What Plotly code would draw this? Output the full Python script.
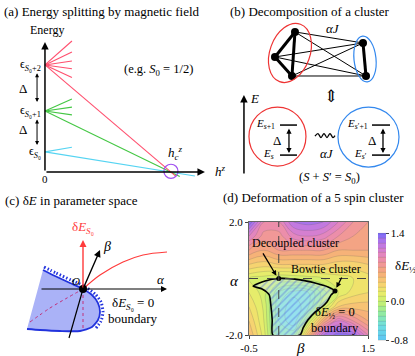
import math
import plotly.graph_objects as go

FONT = "Liberation Serif, DejaVu Serif, Times New Roman, serif"

# ---------- (a) energy splitting by magnetic field ----------
level_eps = [0.47, 1.42, 2.49]              # eps_S0, eps_S0+1, eps_S0+2
level_colors = ["#55d4f2", "#44c744", "#ff4f6e"]
level_names = ["ϵ<sub><i>S</i>₀</sub>", "ϵ<sub><i>S</i>₀+1</sub>", "ϵ<sub><i>S</i>₀+2</sub>"]
fan_slopes = [[0.5], [1.3, 0.42, -0.42], [2.6, 1.4, 0.42, -0.42, -1.36]]
fan_len = 0.214
long_end = [1.19, 1.07, 1.04]
h_c = 1.0

# ---------- (b) decomposition of a cluster ----------
node_x = [7.5, 5.5, 7.2, 14.3, 14.6]
node_y = [15.3, 12.8, 10.9, 14.2, 10.9]
intra_edges = [(0, 1), (1, 2), (0, 2), (3, 4)]
inter_edges = [(0, 3), (0, 4), (1, 3), (1, 4), (2, 3), (2, 4)]
# cluster ellipses: centre x, centre y, semi-major, semi-minor, tilt (deg, clockwise from vertical)
cluster_ell = [(7.0, 13.2, 3.05, 2.0, 20), (14.5, 12.6, 2.3, 1.1, -6)]
cluster_cols = ["#ee3333", "#3388ee"]
wave_x = [9.5, 9.8, 10.1, 10.4, 10.7, 11.0, 11.3, 11.5]
wave_y = [4.9, 5.15, 4.75, 5.15, 4.75, 5.15, 4.75, 4.95]

# ---------- (c) dE in parameter space ----------
red_curve_x = [0.0, 1.7, 4.0, 6.0, 8.4]
red_curve_y = [0.0, 1.4, 2.7, 3.4, 3.7]
region_x = [-4.0, -2.8, -1.3, 0.0, 0.9, 1.5, 1.7, 1.5, 0.9, -0.3, -2.3, -4.3, -5.6, -4.0]
region_y = [1.9, 1.3, 0.6, 0.0, -0.6, -1.4, -2.3, -3.1, -3.8, -4.2, -4.2, -4.1, -4.0, 1.9]
edge_x = [-4.0, -2.8, -1.3, 0.0, 0.9, 1.5, 1.7, 1.5, 0.9, -0.3, -2.3, -4.3, -5.6]
edge_y = [1.9, 1.3, 0.6, 0.0, -0.6, -1.4, -2.3, -3.1, -3.8, -4.2, -4.2, -4.1, -4.0]
comb_x = [-3.9, -2.7, -1.2, 0.1, 1.2, 1.8, 2.0, 1.8, 1.3]
comb_y = [2.2, 1.6, 0.9, 0.3, -0.5, -1.3, -2.3, -3.2, -3.9]
dot_curve_x = [-5.3, -3.3, -1.6, 0.0]
dot_curve_y = [-3.3, -1.9, -0.9, 0.0]

# ---------- (d) deformation of a 5 spin cluster ----------
beta_grid = [-0.5, -0.25, 0.0, 0.25, 0.5, 0.75, 1.0, 1.25, 1.5]
alpha_grid = [-2.0, -1.5, -1.0, -0.5, 0.0, 0.5, 1.0, 1.5, 2.0]
dE_grid = [
    [0.5, 0.15, -0.4, -0.3, 0.5, 1.2, 1.35, 1.3, 0.9],
    [0.4, 0.1, -0.4, -0.6, 0.0, 0.6, 1.0, 0.8, 0.6],
    [0.3, 0.08, -0.4, -0.6, -0.4, 0.03, 0.4, 0.45, 0.45],
    [0.2, 0.05, -0.3, -0.45, -0.4, -0.15, 0.1, 0.25, 0.3],
    [0.1, 0.05, 0.0, 0.02, 0.05, 0.1, 0.15, 0.2, 0.25],
    [0.4, 0.35, 0.4, 0.4, 0.4, 0.4, 0.35, 0.35, 0.4],
    [0.7, 0.6, 0.7, 0.7, 0.7, 0.7, 0.6, 0.6, 0.6],
    [1.0, 0.75, 0.75, 0.95, 1.0, 0.95, 0.8, 0.7, 0.65],
    [1.4, 0.9, 0.9, 1.2, 1.25, 1.2, 1.0, 0.8, 0.7],
]
boundary_beta = [-0.43, -0.23, 0.0, 0.36, 0.61, 0.83, 0.945, 0.88, 0.81, 0.73, 0.61, 0.49, 0.41, 0.36,
                 -0.10, -0.11, -0.13, -0.16, -0.28, -0.43]
boundary_alpha = [-0.27, -0.09, 0.0, -0.05, -0.16, -0.30, -0.44, -0.58, -0.83, -1.0, -1.19, -1.47, -1.75, -2.0,
                  -2.0, -1.47, -1.0, -0.58, -0.37, -0.27]
special_beta = [0.0, 0.945]     # decoupled, bowtie
special_alpha = [0.0, -0.44]

colorscale = [
    [0.0, "#5ec6f4"], [0.136, "#6fdfe0"], [0.27, "#97ec98"], [0.364, "#cdf06e"],
    [0.455, "#eeea6a"], [0.545, "#f8cb72"], [0.636, "#f5aa7a"], [0.727, "#f092a0"],
    [0.818, "#df82c8"], [0.909, "#b876e8"], [1.0, "#7d6cf5"],
]


def ellipse_path(cx, cy, a, b, tilt):
    # tilted ellipse as four cubic bezier arcs (svg path for a layout shape)
    th = math.radians(tilt)
    ux, uy = math.sin(th), math.cos(th)       # major axis direction
    vx, vy = uy, -ux                          # minor axis direction
    k = 0.5523

    def pt(t):
        return (cx + a * math.cos(t) * ux + b * math.sin(t) * vx,
                cy + a * math.cos(t) * uy + b * math.sin(t) * vy)

    def der(t):
        return (-a * math.sin(t) * ux + b * math.cos(t) * vx,
                -a * math.sin(t) * uy + b * math.cos(t) * vy)

    p0 = pt(0)
    path = "M %.3f,%.3f" % p0
    for q in range(4):
        t0, t1 = q * math.pi / 2, (q + 1) * math.pi / 2
        s, e = pt(t0), pt(t1)
        d0, d1 = der(t0), der(t1)
        c1 = (s[0] + k * d0[0] * (math.pi / 2) / (math.pi / 2), s[1] + k * d0[1])
        c2 = (e[0] - k * d1[0], e[1] - k * d1[1])
        path += " C %.3f,%.3f %.3f,%.3f %.3f,%.3f" % (c1[0], c1[1], c2[0], c2[1], e[0], e[1])
    return path + " Z"


fig = go.Figure()

# panel a traces
for k, eps in enumerate(level_eps):
    xs, ys = [], []
    for s in fan_slopes[k]:
        xs += [0, fan_len, None]
        ys += [eps, eps + s * fan_len, None]
    xs += [0, long_end[k]]
    ys += [eps, eps * (1 - long_end[k] / h_c)]
    fig.add_trace(go.Scatter(x=xs, y=ys, mode="lines", line=dict(color=level_colors[k], width=1.1),
                             xaxis="x", yaxis="y", hoverinfo="skip"))

# panel b traces
ex, ey = [], []
for i, j in inter_edges:
    ex += [node_x[i], node_x[j], None]
    ey += [node_y[i], node_y[j], None]
fig.add_trace(go.Scatter(x=ex, y=ey, mode="lines", line=dict(color="black", width=1),
                         xaxis="x2", yaxis="y2"))
ex, ey = [], []
for i, j in intra_edges:
    ex += [node_x[i], node_x[j], None]
    ey += [node_y[i], node_y[j], None]
fig.add_trace(go.Scatter(x=ex, y=ey, mode="lines", line=dict(color="black", width=3),
                         xaxis="x2", yaxis="y2"))
fig.add_trace(go.Scatter(x=node_x, y=node_y, mode="markers", marker=dict(color="black", size=8),
                         xaxis="x2", yaxis="y2"))
fig.add_trace(go.Scatter(x=wave_x, y=wave_y, mode="lines", line=dict(color="black", width=1.3, shape="spline"),
                         xaxis="x2", yaxis="y2"))
for lx in ([6.0, 7.7], [15.2, 17.0]):
    fig.add_trace(go.Scatter(x=lx + [None] + lx, y=[6.0, 6.0, None, 3.0, 3.0], mode="lines",
                             line=dict(color="black", width=1.5), xaxis="x2", yaxis="y2"))

# panel c traces
fig.add_trace(go.Scatter(x=region_x, y=region_y, mode="none", fill="toself",
                         fillcolor="rgba(100,115,240,0.55)", xaxis="x3", yaxis="y3"))
fig.add_trace(go.Scatter(x=comb_x, y=comb_y, mode="lines",
                         line=dict(color="#2233dd", width=3, dash="1.5px,2px", shape="spline", smoothing=0.6),
                         xaxis="x3", yaxis="y3"))
fig.add_trace(go.Scatter(x=edge_x, y=edge_y, mode="lines",
                         line=dict(color="#2233dd", width=1.8, shape="spline", smoothing=0.6),
                         xaxis="x3", yaxis="y3"))
fig.add_trace(go.Scatter(x=dot_curve_x + [None, 0, 0], y=dot_curve_y + [None, 0, -4.1], mode="lines",
                         line=dict(color="#c0307a", width=1, dash="dot", shape="spline"), xaxis="x3", yaxis="y3"))
fig.add_trace(go.Scatter(x=[0, -1.4], y=[0, -4.9], mode="lines", line=dict(color="black", width=1.2),
                         xaxis="x3", yaxis="y3"))
fig.add_trace(go.Scatter(x=red_curve_x, y=red_curve_y, mode="lines", line=dict(color="#ff3b3b", width=1.2, shape="spline"),
                         xaxis="x3", yaxis="y3"))
fig.add_trace(go.Scatter(x=[0], y=[0], mode="markers", marker=dict(color="black", size=8),
                         xaxis="x3", yaxis="y3"))

# panel d traces
fig.add_trace(go.Contour(
    x=beta_grid, y=alpha_grid, z=dE_grid, xaxis="x4", yaxis="y4",
    colorscale=colorscale, zmin=-0.8, zmax=1.4,
    contours=dict(start=-0.8, end=1.4, size=0.1, coloring="fill"),
    line=dict(color="rgba(90,90,90,0.35)", width=0.6, smoothing=1.2),
    colorbar=dict(x=378 / 415, xanchor="left", xpad=0, ypad=0, y=1 - 286.5 / 356, yanchor="middle",
                  len=107 / 356, lenmode="fraction", thickness=8, outlinewidth=0,
                  tickvals=[-0.8, 0.0, 1.4], ticktext=["-0.8", "0.0", "1.4"],
                  ticks="outside", ticklen=3, tickfont=dict(family=FONT, size=11, color="black")),
    hoverinfo="skip"))
fig.add_trace(go.Scatter(
    x=boundary_beta, y=boundary_alpha, mode="lines", fill="toself",
    line=dict(color="black", width=1.6, shape="spline", smoothing=0.6),
    fillcolor="rgba(150,190,255,0.25)",
    fillpattern=dict(shape="/", fgcolor="rgba(80,100,225,0.8)", bgcolor="rgba(225,238,255,0.35)",
                     size=5, solidity=0.3),
    xaxis="x4", yaxis="y4"))
fig.add_trace(go.Scatter(x=special_beta, y=special_alpha, mode="markers", marker=dict(color="black", size=5),
                         xaxis="x4", yaxis="y4"))


def arrow(x0, y0, x1, y1, ax_id, color="black", both=False, width=1.2, size=1.0):
    xr = "x" if ax_id == 1 else "x%d" % ax_id
    yr = "y" if ax_id == 1 else "y%d" % ax_id
    return dict(x=x1, y=y1, ax=x0, ay=y0, xref=xr, yref=yr, axref=xr, ayref=yr, text="",
                showarrow=True, arrowhead=2, arrowsize=size, arrowwidth=width, arrowcolor=color,
                arrowside="end+start" if both else "end", startarrowhead=2, startarrowsize=size)


def label(x, y, text, ax_id=None, size=12, color="black", xanchor="center", yanchor="middle"):
    if ax_id is None:
        xr, yr = "paper", "paper"
    else:
        xr = "x" if ax_id == 1 else "x%d" % ax_id
        yr = "y" if ax_id == 1 else "y%d" % ax_id
    return dict(x=x, y=y, xref=xr, yref=yr, text=text, showarrow=False, xanchor=xanchor, yanchor=yanchor,
                font=dict(family=FONT, size=size, color=color))


ann = [
    label(2 / 415, 1 - 11 / 356, "(a) Energy splitting by magnetic field", size=13, xanchor="left"),
    label(228 / 415, 1 - 11 / 356, "(b) Decomposition of a cluster", size=13, xanchor="left"),
    label(3 / 415, 1 - 200 / 356, "(c) δ<i>E</i> in parameter space", size=13, xanchor="left"),
    label(313 / 415, 1 - 197 / 356, "(d) Deformation of a 5 spin cluster", size=13),
    # a
    arrow(0, 0, 0, 3.02, 1, width=1.5),
    arrow(0, 0, 1.27, 0, 1, width=1.5),
    arrow(-0.063, 2.33, -0.063, 1.63, 1, both=True, width=1, size=0.8),
    arrow(-0.063, 1.26, -0.063, 0.63, 1, both=True, width=1, size=0.8),
    label(0.016, 3.3, "Energy", 1, size=12),
    label(0.0, -0.17, "0", 1, size=11),
    label(1.33, 0.02, "<i>h<sup>z</sup></i>", 1, size=13, xanchor="left"),
    label(-0.175, 1.95, "Δ", 1, size=13),
    label(-0.175, 0.98, "Δ", 1, size=13),
    label(0.9, 2.37, "(e.g. <i>S</i><sub>0</sub> = 1/2)", 1, size=12.5),
    label(1.04, 0.45, "<i>h</i><sub><i>c</i></sub><sup><i>z</i></sup>", 1, size=13),
    # b
    label(11.3, 15.6, "<i>αJ</i>", 2, size=13),
    label(11.1, 8.9, "⇕", 2, size=17),
    arrow(2.4, 1.0, 2.4, 9.0, 2, width=1.5),
    label(3.5, 8.7, "<i>E</i>", 2, size=13),
    arrow(6.9, 5.8, 6.9, 3.2, 2, both=True, width=1.3, size=0.8),
    arrow(16.3, 5.8, 16.3, 3.2, 2, both=True, width=1.3, size=0.8),
    label(5.7, 6.1, "<i>E</i><sub><i>s</i>+1</sub>", 2, size=11, xanchor="right"),
    label(5.6, 3.1, "<i>E</i><sub><i>s</i></sub>", 2, size=11, xanchor="right"),
    label(15.0, 6.1, "<i>E</i><sub><i>s</i>′+1</sub>", 2, size=11, xanchor="right"),
    label(14.9, 3.1, "<i>E</i><sub><i>s</i>′</sub>", 2, size=11, xanchor="right"),
    label(5.75, 4.5, "Δ", 2, size=13),
    label(15.2, 4.5, "Δ", 2, size=13),
    label(10.7, 3.2, "<i>αJ</i>", 2, size=13),
    label(11.0, 0.75, "(<i>S</i> + <i>S</i>′ = <i>S</i><sub>0</sub>)", 2, size=12.5),
    # c
    arrow(-4.3, 0, 8.4, 0, 3, width=1.2),
    arrow(0, 0, 0, 4.9, 3, color="#ff3b3b", width=1.4),
    arrow(0, 0, 1.7, 3.9, 3, width=1.4),
    label(7.8, 1.0, "<i>α</i>", 3, size=13),
    label(0.0, 6.2, "δ<i>E</i><sub><i>S</i>₀</sub>", 3, size=13, color="#ff3b3b"),
    label(2.4, 4.3, "<i>β</i>", 3, size=14),
    label(-0.75, 0.85, "<i>O</i>", 3, size=11),
    label(5.0, -1.4, "δ<i>E</i><sub><i>S</i>₀</sub> = 0", 3, size=13),
    label(5.0, -2.9, "boundary", 3, size=13),
    # d
    label(295 / 415, 1 - 243 / 356, "Decoupled cluster", size=12),
    arrow(-0.28, 0.94, -0.04, 0.1, 4, width=1.3, size=0.8),
    label(326 / 415, 1 - 269 / 356, "Bowtie cluster", size=12),
    arrow(1.07, 0.09, 0.97, -0.33, 4, width=1.3, size=0.8),
    label(0.945, -1.22, "δ<i>E</i><sub>½</sub> = 0", 4, size=12.5),
    label(0.945, -1.75, "boundary", 4, size=12.5),
    label(234 / 415, 1 - 281 / 356, "<i>α</i>", size=15),
    label(300 / 415, 1 - 348 / 356, "<i>β</i>", size=15),
    label(393 / 415, 1 - 266 / 356, "δ<i>E</i><sub>½</sub>", size=13, xanchor="left"),
]
for k, eps in enumerate(level_eps):
    ann.append(label(-0.016, eps, level_names[k], 1, size=12, xanchor="right"))

shapes = [
    dict(type="circle", xref="x", yref="y", x0=h_c - 0.056, x1=h_c + 0.056, y0=0.02 - 0.163, y1=0.02 + 0.163,
         line=dict(color="#a050f0", width=1.2)),
    dict(type="circle", xref="x2", yref="y2", x0=2.9, x1=8.6, y0=1.9, y1=7.8, line=dict(color="#ee3333", width=1.2)),
    dict(type="circle", xref="x2", yref="y2", x0=11.8, x1=17.9, y0=1.8, y1=7.8, line=dict(color="#3388ee", width=1.2)),
    dict(type="line", xref="x4", yref="y4", x0=0, x1=0, y0=-2, y1=2, line=dict(color="#444", width=1, dash="dash")),
    dict(type="line", xref="x4", yref="y4", x0=-0.5, x1=1.5, y0=0, y1=0, line=dict(color="#444", width=1, dash="dash")),
]
for (cx, cy, a, b, tilt), col in zip(cluster_ell, cluster_cols):
    shapes.append(dict(type="path", xref="x2", yref="y2", path=ellipse_path(cx, cy, a, b, tilt),
                       line=dict(color=col, width=1.2)))

hidden = dict(visible=False, fixedrange=True)
fig.update_layout(
    width=415, height=356, margin=dict(l=0, r=0, t=0, b=0, autoexpand=False),
    paper_bgcolor="white", plot_bgcolor="rgba(0,0,0,0)", showlegend=False,
    font=dict(family=FONT, color="black"),
    xaxis=dict(domain=[0, 0.53], range=[-0.357, 1.389], anchor="y", **hidden),
    yaxis=dict(domain=[0.48, 0.944], range=[-0.302, 3.535], anchor="x", **hidden),
    xaxis2=dict(domain=[0.53, 1.0], range=[0, 19.5], anchor="y2", **hidden),
    yaxis2=dict(domain=[0.48, 0.944], range=[0, 16.5], anchor="x2", **hidden),
    xaxis3=dict(domain=[0, 0.5], range=[-8.3, 12.45], anchor="y3", **hidden),
    yaxis3=dict(domain=[0, 0.466], range=[-6.7, 9.89], anchor="x3", **hidden),
    xaxis4=dict(domain=[249 / 415, 368 / 415], range=[-0.5, 1.5], anchor="y4",
                tickvals=[-0.5, 1.5], ticktext=["-0.5", "1.5"], ticks="outside", ticklen=3,
                showline=True, linecolor="#666", linewidth=1, mirror=True, showgrid=False, zeroline=False,
                tickfont=dict(family=FONT, size=11, color="black")),
    yaxis4=dict(domain=[1 - 335 / 356, 1 - 222 / 356], range=[-2, 2], anchor="x4",
                tickvals=[-2, 2], ticktext=["-2.0", "2.0"], ticks="outside", ticklen=3,
                showline=True, linecolor="#666", linewidth=1, mirror=True, showgrid=False, zeroline=False,
                tickfont=dict(family=FONT, size=11, color="black")),
    annotations=ann, shapes=shapes,
)

fig.write_html("out.html", config={"displayModeBar": False},
               post_script="document.body.style.margin='0';")
